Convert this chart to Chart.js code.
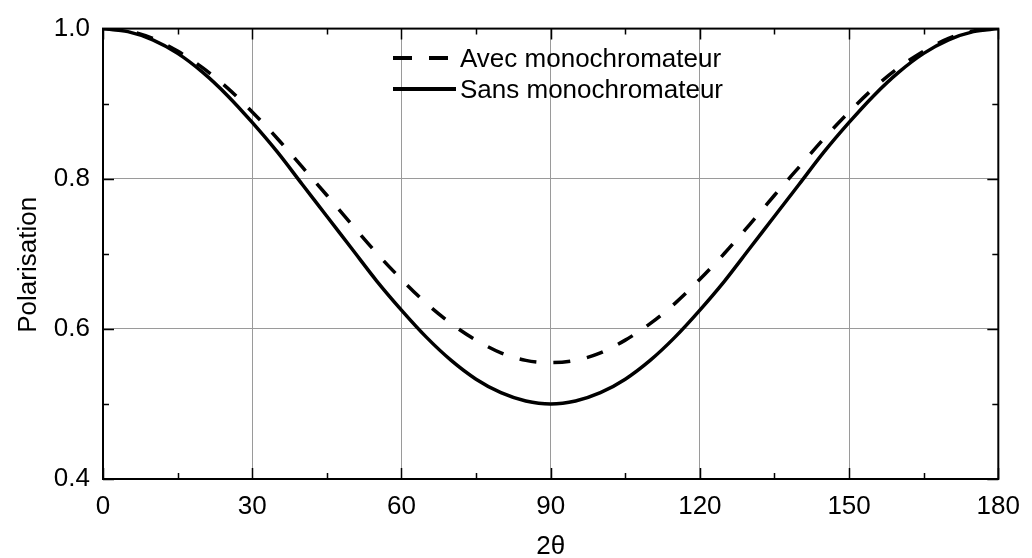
<!DOCTYPE html>
<html>
<head>
<meta charset="utf-8">
<script src="https://cdn.jsdelivr.net/npm/chart.js@4/dist/chart.umd.min.js"></script>
<style>
  html, body { margin: 0; padding: 0; background: #fff; }
  #wrap { width: 1032px; height: 558px; }
</style>
</head>
<body>
<div id="wrap"><canvas id="chart" width="1032" height="558"></canvas></div>
<script>
// Diffraction angle 2θ (degrees)
const angles = [0, 5, 10, 15, 20, 25, 30, 35, 40, 45, 50, 55, 60, 65, 70, 75, 80, 85, 90,
                95, 100, 105, 110, 115, 120, 125, 130, 135, 140, 145, 150, 155, 160, 165, 170, 175, 180];

// Polarisation factor with a monochromator (dashed)
const avecMono = [1.000, 0.997, 0.987, 0.970, 0.948, 0.921, 0.889, 0.854, 0.816, 0.778,
                  0.739, 0.701, 0.666, 0.634, 0.607, 0.585, 0.568, 0.558, 0.555,
                  0.558, 0.568, 0.585, 0.607, 0.634, 0.666, 0.701, 0.739, 0.778, 0.816,
                  0.854, 0.889, 0.921, 0.948, 0.970, 0.987, 0.997, 1.000];

// Polarisation factor without a monochromator (solid)
const sansMono = [1.000, 0.996, 0.985, 0.967, 0.942, 0.911, 0.875, 0.836, 0.793, 0.750,
                  0.707, 0.664, 0.625, 0.589, 0.558, 0.533, 0.515, 0.504, 0.500,
                  0.504, 0.515, 0.533, 0.558, 0.589, 0.625, 0.664, 0.707, 0.750, 0.793,
                  0.836, 0.875, 0.911, 0.942, 0.967, 0.985, 0.996, 1.000];

const seriesLabels = ['Avec monochromateur', 'Sans monochromateur'];
const xTickValues = [0, 30, 60, 90, 120, 150, 180];
const yTickValues = [0.4, 0.6, 0.8, 1.0];
const yTickLabels = ['0.4', '0.6', '0.8', '1.0'];
const xMinorStep = 15;
const yMinorStep = 0.1;
const xTitle = '2\u03B8';
const yTitle = 'Polarisation';

const FONT = '"Liberation Sans", Arial, Helvetica, sans-serif';
const FONT_SIZE = 26;

const toPoints = (vals) => angles.map((a, i) => ({ x: a, y: vals[i] }));

// Frame, inward tick marks, axis titles and the in-plot legend
const decorations = {
  id: 'decorations',
  beforeDatasetsDraw(chart) {
    const { ctx, chartArea: { left, right, top, bottom }, scales: { x, y } } = chart;
    ctx.save();
    ctx.strokeStyle = '#000';
    ctx.lineWidth = 1.5;
    ctx.beginPath();
    for (let v = x.min; v <= x.max + 1e-9; v += xMinorStep) {
      const px = Math.round(x.getPixelForValue(v)) + 0.5;
      const len = xTickValues.includes(v) ? 11 : 6;
      ctx.moveTo(px, bottom); ctx.lineTo(px, bottom - len);
      ctx.moveTo(px, top); ctx.lineTo(px, top + len);
    }
    for (let k = 0; y.min + k * yMinorStep <= y.max + 1e-9; k++) {
      const v = y.min + k * yMinorStep;
      const py = Math.round(y.getPixelForValue(v)) + 0.5;
      const len = (k % 2 === 0) ? 11 : 6;
      ctx.moveTo(left, py); ctx.lineTo(left + len, py);
      ctx.moveTo(right, py); ctx.lineTo(right - len, py);
    }
    ctx.stroke();
    ctx.lineWidth = 2;
    ctx.strokeRect(left, top, right - left, bottom - top);
    ctx.restore();
  },
  afterDraw(chart) {
    const { ctx, chartArea: { left, right, top, bottom } } = chart;
    ctx.save();
    ctx.fillStyle = '#000';
    ctx.font = FONT_SIZE + 'px ' + FONT;

    // axis titles
    ctx.textAlign = 'center';
    ctx.textBaseline = 'alphabetic';
    ctx.fillText(xTitle, (left + right) / 2, 554);
    ctx.save();
    ctx.translate(36, (top + bottom) / 2 + 11);
    ctx.rotate(-Math.PI / 2);
    ctx.fillText(yTitle, 0, 0);
    ctx.restore();

    // legend
    const ds = chart.data.datasets;
    const sx = 393;
    const rows = [58, 89];
    ctx.strokeStyle = '#000';
    ctx.lineWidth = 4;
    ctx.lineCap = 'butt';
    ds.forEach((d, i) => {
      ctx.beginPath();
      ctx.setLineDash(d.borderDash && d.borderDash.length ? [19, 17] : []);
      ctx.moveTo(sx, rows[i]);
      ctx.lineTo(i === 0 ? 448 : 456, rows[i]);
      ctx.stroke();
      ctx.textAlign = 'left';
      ctx.textBaseline = 'alphabetic';
      ctx.fillText(d.label, 460, rows[i] + 9);
    });
    ctx.restore();
  }
};

new Chart(document.getElementById('chart'), {
  type: 'line',
  data: {
    datasets: [
      {
        label: seriesLabels[0],
        data: toPoints(avecMono),
        borderColor: '#000',
        borderWidth: 3.5,
        borderDash: [17, 17],
        pointRadius: 0,
        cubicInterpolationMode: 'monotone',
        fill: false
      },
      {
        label: seriesLabels[1],
        data: toPoints(sansMono),
        borderColor: '#000',
        borderWidth: 3.5,
        pointRadius: 0,
        cubicInterpolationMode: 'monotone',
        fill: false
      }
    ]
  },
  options: {
    responsive: false,
    animation: false,
    devicePixelRatio: 1,
    layout: { padding: { left: 0, top: 21, right: 25, bottom: 0 } },
    plugins: {
      legend: { display: false },
      tooltip: { enabled: false }
    },
    scales: {
      x: {
        type: 'linear',
        min: 0,
        max: 180,
        afterBuildTicks(scale) { scale.ticks = xTickValues.map(v => ({ value: v })); },
        afterFit(scale) { scale.height = 79; },
        border: { display: false },
        grid: { color: '#9a9a9a', lineWidth: 1, drawTicks: false },
        ticks: {
          padding: 12,
          color: '#000',
          maxRotation: 0,
          font: { family: FONT, size: FONT_SIZE },
          callback: (v) => String(v)
        }
      },
      y: {
        type: 'linear',
        min: 0.4,
        max: 1.0,
        afterBuildTicks(scale) { scale.ticks = yTickValues.map(v => ({ value: v })); },
        afterFit(scale) { scale.width = 103; },
        border: { display: false },
        grid: { color: '#9a9a9a', lineWidth: 1, drawTicks: false },
        ticks: {
          padding: 13,
          color: '#000',
          font: { family: FONT, size: FONT_SIZE },
          callback: (v) => {
            const i = yTickValues.findIndex(t => Math.abs(t - v) < 1e-9);
            return i >= 0 ? yTickLabels[i] : '';
          }
        }
      }
    }
  },
  plugins: [decorations]
});
</script>
</body>
</html>
